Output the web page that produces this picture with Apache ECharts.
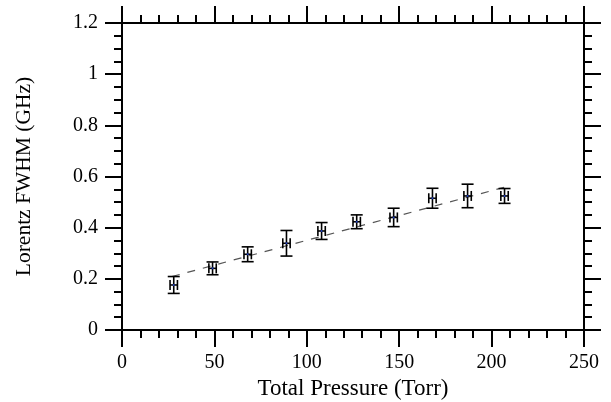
<!DOCTYPE html>
<html>
<head>
<meta charset="utf-8">
<script src="https://cdn.jsdelivr.net/npm/echarts@6/dist/echarts.min.js"></script>
<style>
html,body{margin:0;padding:0;background:#fff;}
#chart{width:611px;height:402px;}
</style>
</head>
<body>
<div id="chart"></div>
<script>
// Data
var pressure = [28, 49, 68, 89, 108, 127, 147, 168, 187, 207];
var fwhm = [0.176, 0.241, 0.296, 0.339, 0.387, 0.423, 0.440, 0.515, 0.524, 0.524];
var fwhmErr = [0.033, 0.025, 0.029, 0.050, 0.033, 0.027, 0.036, 0.039, 0.046, 0.029];
var pressureErr = [2, 2, 2, 2, 2, 2, 2, 2, 2, 2];
var fitX = [27, 208];
var fitY = [0.209, 0.560];

var FONT = 'Liberation Serif';

var points = pressure.map(function (p, i) {
  return [p, fwhm[i], fwhmErr[i], pressureErr[i]];
});
var fitData = fitX.map(function (x, i) { return [x, fitY[i]]; });

function axisCommon(showLabel) {
  return {
    axisLine: { show: true, onZero: false, lineStyle: { color: '#000', width: 2 } },
    axisTick: { show: true, inside: false, length: 17, lineStyle: { color: '#000', width: 2 } },
    minorTick: { show: true, length: 8, lineStyle: { color: '#000', width: 2 } },
    splitLine: { show: false },
    minorSplitLine: { show: false },
    axisLabel: { show: showLabel, color: '#000', fontFamily: FONT, fontSize: 20 }
  };
}

var xBottom = Object.assign(axisCommon(true), {
  type: 'value', min: 0, max: 250, interval: 50, position: 'bottom',
  name: 'Total Pressure (Torr)', nameLocation: 'middle', nameGap: 47,
  nameTextStyle: { color: '#000', fontFamily: FONT, fontSize: 23 }
});
xBottom.minorTick.splitNumber = 5;
xBottom.axisLabel.margin = 23;

var xTop = Object.assign(axisCommon(false), {
  type: 'value', min: 0, max: 250, interval: 50, position: 'top'
});
xTop.minorTick.splitNumber = 5;

var yLeft = Object.assign(axisCommon(true), {
  type: 'value', min: 0, max: 1.2, interval: 0.2, position: 'left',
  name: 'Lorentz FWHM (GHz)', nameLocation: 'middle', nameGap: 87,
  nameTextStyle: { color: '#000', fontFamily: FONT, fontSize: 21.5 }
});
yLeft.minorTick.splitNumber = 4;
yLeft.axisLabel.margin = 24;

var yRight = Object.assign(axisCommon(false), {
  type: 'value', min: 0, max: 1.2, interval: 0.2, position: 'right'
});
yRight.minorTick.splitNumber = 4;

function renderErr(params, api) {
  var x = api.value(0), y = api.value(1), ey = api.value(2), ex = api.value(3);
  var c = api.coord([x, y]);
  var top = api.coord([x, y + ey]);
  var bot = api.coord([x, y - ey]);
  var left = api.coord([x - ex, y]);
  var right = api.coord([x + ex, y]);
  var capY = 6, capX = 5;
  var st = { stroke: '#000', lineWidth: 1.6 };
  function line(x1, y1, x2, y2) {
    return { type: 'line', shape: { x1: x1, y1: y1, x2: x2, y2: y2 }, style: st };
  }
  return {
    type: 'group',
    children: [
      line(c[0], top[1], c[0], bot[1]),
      line(c[0] - capY, top[1], c[0] + capY, top[1]),
      line(c[0] - capY, bot[1], c[0] + capY, bot[1]),
      line(left[0], c[1], right[0], c[1]),
      line(left[0], c[1] - capX, left[0], c[1] + capX),
      line(right[0], c[1] - capX, right[0], c[1] + capX),
      { type: 'circle', shape: { cx: c[0], cy: c[1], r: 1 }, style: { fill: '#2040c0' } }
    ]
  };
}

var chart = echarts.init(document.getElementById('chart'), null, { renderer: 'canvas' });
chart.setOption({
  animation: false,
  backgroundColor: '#fff',
  grid: { left: 122, right: 27, top: 23, bottom: 72, containLabel: false, outerBoundsMode: 'none' },
  xAxis: [xBottom, xTop],
  yAxis: [yLeft, yRight],
  series: [
    {
      type: 'line', xAxisIndex: 0, yAxisIndex: 0,
      data: fitData, showSymbol: false, symbol: 'none',
      lineStyle: { color: '#555', width: 1.2, type: [8, 8] },
      silent: true, z: 1
    },
    {
      type: 'custom', xAxisIndex: 0, yAxisIndex: 0,
      data: points, renderItem: renderErr,
      encode: { x: 0, y: 1 }, z: 2, clip: false
    }
  ]
});
</script>
</body>
</html>
